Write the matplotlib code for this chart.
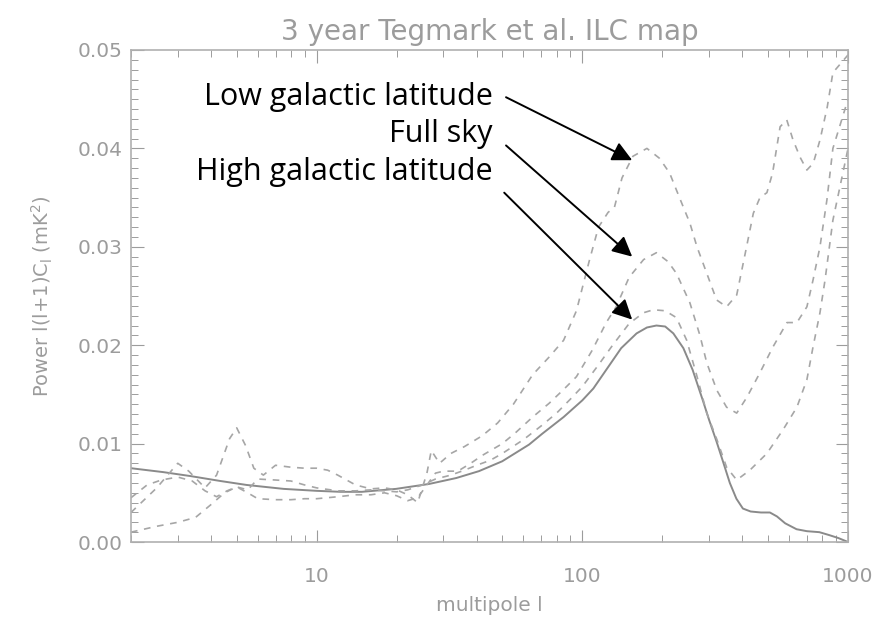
import matplotlib

matplotlib.use("Agg")
import matplotlib.pyplot as plt
from matplotlib.ticker import FixedLocator, MultipleLocator, NullFormatter

GREY = "#9c9c9c"
LINE = "#8a8a8a"
DASH = "#a6a6a6"

# smooth curve (solid)
solid_l = [2, 2.65, 3.35, 4.34, 5.44, 7.5, 10, 12.3, 14.8, 19.9, 26.5, 33.5, 40.8,
           49.9, 63, 70.6, 85, 100, 110, 123, 140, 160, 175, 190, 205, 220, 240, 260,
           284, 300, 320, 340, 359, 380, 402, 430, 470, 508, 540, 580, 640, 700, 780,
           850, 920, 1000]
solid_p = [0.0075, 0.0071, 0.0067, 0.0062, 0.0058, 0.0054, 0.0052, 0.0051, 0.0051,
           0.0054, 0.0059, 0.0065, 0.0072, 0.0082, 0.0099, 0.0110, 0.0127, 0.0144,
           0.0156, 0.0175, 0.0197, 0.0212, 0.0218, 0.0220, 0.0219, 0.0212, 0.0197,
           0.0175, 0.0144, 0.0124, 0.0102, 0.0080, 0.0060, 0.0044, 0.0034, 0.0031,
           0.0030, 0.0030, 0.0026, 0.0019, 0.0013, 0.0011, 0.0010, 0.0007, 0.0004,
           0.0000]

# low galactic latitude (dashed)
low_l = [2, 2.5, 3, 3.3, 3.8, 4.2, 4.7, 5.0, 5.4, 5.8, 6.3, 7, 8, 9, 10, 11, 12, 14,
         16, 18, 20, 22, 24, 26, 27, 29, 32, 36, 42, 48, 55, 65, 75, 85, 95, 106, 115,
         125, 132, 141, 155, 175, 195, 213, 232, 254, 270, 294, 320, 349, 381, 415,
         440, 466, 495, 520, 555, 588, 620, 660, 700, 740, 785, 835, 877, 1000]
low_p = [0.0030, 0.0055, 0.0080, 0.0072, 0.0055, 0.0068, 0.0105, 0.0116, 0.0098,
         0.0075, 0.0068, 0.0078, 0.0076, 0.0075, 0.0075, 0.0073, 0.0068, 0.0058,
         0.0054, 0.0055, 0.0053, 0.0048, 0.0040, 0.0070, 0.0093, 0.0080, 0.0090,
         0.0097, 0.0108, 0.0121, 0.0140, 0.0170, 0.0188, 0.0205, 0.0235, 0.0285,
         0.0320, 0.0335, 0.0340, 0.0370, 0.0392, 0.0400, 0.0390, 0.0375, 0.0350,
         0.0324, 0.0300, 0.0273, 0.0246, 0.0239, 0.0251, 0.0300, 0.0334, 0.0350,
         0.0355, 0.0375, 0.0422, 0.0429, 0.0409, 0.0391, 0.0378, 0.0385, 0.0409,
         0.0442, 0.0477, 0.0495]

# full sky (dashed)
full_l = [2, 2.5, 3, 3.5, 4, 4.5, 5, 5.5, 6, 7, 8, 9, 10, 12, 14, 16, 18, 20, 22, 24,
          26, 28, 30, 34, 38, 42, 50, 56, 65, 75, 85, 95, 109, 123, 134, 150, 170,
          190, 210, 226, 254, 277, 294, 321, 349, 381, 416, 466, 521, 589, 642, 700,
          738, 784, 833, 877, 1000]
full_p = [0.0010, 0.0016, 0.0020, 0.0025, 0.0038, 0.0050, 0.0056, 0.0050, 0.0044,
          0.0043, 0.0043, 0.0044, 0.0044, 0.0046, 0.0048, 0.0048, 0.0050, 0.0047,
          0.0042, 0.0045, 0.0058, 0.0070, 0.0072, 0.0072, 0.0080, 0.0088, 0.0100,
          0.0111, 0.0127, 0.0141, 0.0155, 0.0168, 0.0195, 0.0223, 0.0239, 0.0269,
          0.0287, 0.0294, 0.0285, 0.0273, 0.0243, 0.0210, 0.0182, 0.0154, 0.0137,
          0.0131, 0.0147, 0.0172, 0.0198, 0.0223, 0.0223, 0.0239, 0.0266, 0.0300,
          0.0348, 0.0400, 0.0450]

# high galactic latitude (dashed)
high_l = [2, 2.3, 2.6, 3, 3.4, 3.8, 4.2, 4.6, 5, 5.5, 6, 7, 8, 9, 10, 12, 14, 16, 18,
          20, 22, 25, 28, 32, 36, 40, 45, 50, 60, 70, 80, 90, 100, 115, 130, 150, 170,
          185, 205, 226, 247, 269, 294, 321, 349, 381, 427, 495, 569, 642, 700, 738,
          784, 819, 877, 1000]
high_p = [0.0045, 0.0058, 0.0063, 0.0066, 0.0062, 0.0052, 0.0046, 0.0052, 0.0056,
          0.0053, 0.0064, 0.0063, 0.0062, 0.0058, 0.0055, 0.0052, 0.0052, 0.0053,
          0.0052, 0.0051, 0.0053, 0.0058, 0.0064, 0.0068, 0.0073, 0.0078, 0.0083,
          0.0090, 0.0104, 0.0118, 0.0131, 0.0145, 0.0158, 0.0180, 0.0200, 0.0222,
          0.0233, 0.0236, 0.0235, 0.0228, 0.0205, 0.0170, 0.0131, 0.0104, 0.0076,
          0.0063, 0.0073, 0.0090, 0.0114, 0.0137, 0.0165, 0.0198, 0.0233, 0.0266,
          0.0327, 0.0400]

labels = ["Low galactic latitude", "Full sky", "High galactic latitude"]
label_y = [0.0444, 0.0406, 0.0368]
arrow_tail = [(51.6, 0.0452), (51.6, 0.0403), (50.8, 0.0355)]
arrow_tip = [(154, 0.0388), (154, 0.0290), (154, 0.0226)]

fig = plt.figure(figsize=(8.88, 6.21), dpi=100)
ax = fig.add_axes([0.1475, 0.1272, 0.8075, 0.7923])

ax.plot(solid_l, solid_p, color=LINE, lw=1.4)
for l, p in [(low_l, low_p), (full_l, full_p), (high_l, high_p)]:
    ax.plot(l, p, color=DASH, lw=1.2, dashes=(4, 4))

ax.set_xscale("log")
ax.set_xlim(2, 1000)
ax.set_ylim(0, 0.05)
ax.xaxis.set_major_locator(FixedLocator([10, 100, 1000]))
ax.xaxis.set_minor_locator(FixedLocator([m * d for d in (1, 10, 100) for m in range(2, 10)]))
ax.xaxis.set_minor_formatter(NullFormatter())
ax.set_xticklabels(["10", "100", "1000"])
ax.yaxis.set_major_locator(MultipleLocator(0.01))
ax.yaxis.set_minor_locator(MultipleLocator(0.001))
ax.yaxis.set_major_formatter(plt.FuncFormatter(lambda v, _: f"{v:.2f}"))

ax.tick_params(which="both", direction="in", top=True, right=True, colors=GREY,
               labelsize=14.5, labelcolor=GREY)
ax.tick_params(which="major", length=9, width=0.8)
ax.tick_params(axis="x", which="major", pad=18)
ax.tick_params(axis="y", which="major", pad=6)
ax.tick_params(which="minor", length=5, width=0.7)
for s in ax.spines.values():
    s.set_color("#b0b0b0")
    s.set_linewidth(1.2)

ax.set_title("3 year Tegmark et al. ILC map", color=GREY, fontsize=20, pad=7)
ax.set_xlabel("multipole l", color=GREY, fontsize=14.5, labelpad=7)
ax.set_ylabel(r"Power l(l+1)C$_\mathregular{l}$ (mK$^\mathregular{2}$)", color=GREY,
              fontsize=14, labelpad=16)

for name, y, tail, tip in zip(labels, label_y, arrow_tail, arrow_tip):
    ax.text(46, y, name, ha="right", va="baseline", fontsize=22,
            family="Open Sans", fontweight="medium", color="black")
    ax.annotate("", xy=tip, xytext=tail,
                arrowprops=dict(arrowstyle="-|>,head_length=0.6,head_width=0.3",
                                mutation_scale=20, lw=1.4, color="black",
                                shrinkA=0, shrinkB=0))

fig.savefig("out.png", dpi=100)
